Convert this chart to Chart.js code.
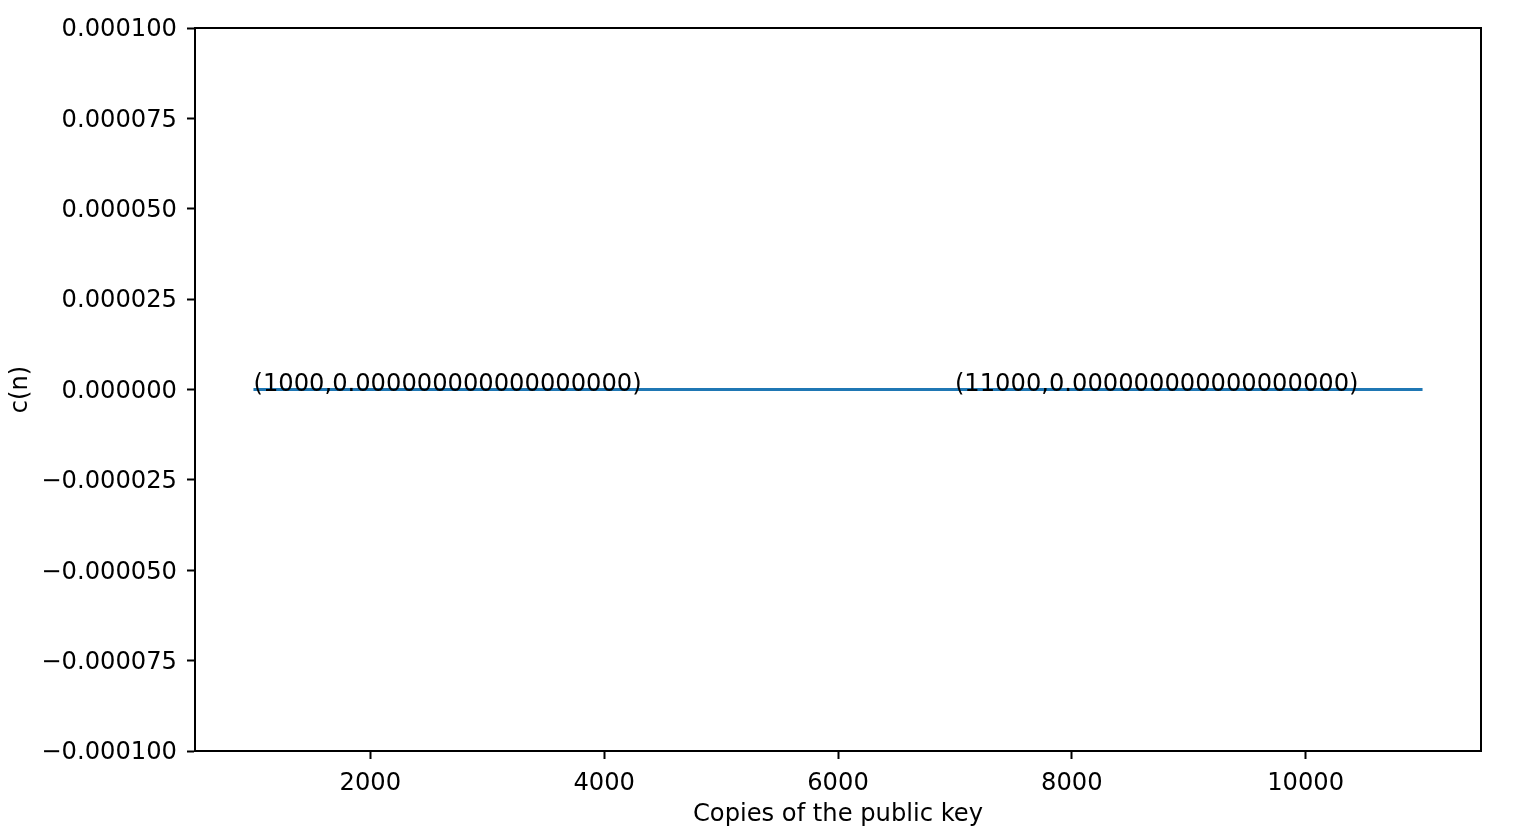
<!DOCTYPE html>
<html>
<head>
<meta charset="utf-8">
<script src="https://cdn.jsdelivr.net/npm/chart.js@4.4.0/dist/chart.umd.min.js"></script>
<style>
  html, body { margin: 0; padding: 0; background: #fff; }
  canvas { display: block; }
</style>
</head>
<body>
<canvas id="grafico-cn" width="1531" height="832"></canvas>
<script>
// --- DATOS ---
const copiasClave = [1000, 11000];
const valoresC = [0, 0];

const xTicks = [2000, 4000, 6000, 8000, 10000];
const xTickLabels = ["2000", "4000", "6000", "8000", "10000"];
const yTicks = [-0.0001, -0.000075, -0.00005, -0.000025, 0, 0.000025, 0.00005, 0.000075, 0.0001];
const yTickLabels = ["\u22120.000100", "\u22120.000075", "\u22120.000050", "\u22120.000025", "0.000000",
                     "0.000025", "0.000050", "0.000075", "0.000100"];

const anotaciones = ["(1000,0.000000000000000000)", "(11000,0.000000000000000000)"];
const anotacionX = [1000, 7000];
const anotacionY = [0, 0];

const FUENTE = "'DejaVu Sans'";
const TAM = 24.2;

Chart.defaults.font.family = FUENTE;
Chart.defaults.font.size = TAM;
Chart.defaults.color = "#000";

// marco completo + textos encima de la linea
const marcoYTextos = {
  id: "marcoYTextos",
  afterDatasetsDraw(chart) {
    const ctx = chart.ctx;
    const xs = chart.scales.x, ys = chart.scales.y;
    ctx.save();
    ctx.font = `${TAM}px ${FUENTE}`;
    ctx.fillStyle = "#000";
    ctx.textAlign = "left";
    ctx.textBaseline = "alphabetic";
    anotaciones.forEach((t, i) => {
      ctx.fillText(t, xs.getPixelForValue(anotacionX[i]), ys.getPixelForValue(anotacionY[i]) + 1);
    });
    ctx.restore();
  },
  afterDraw(chart) {
    const { left, right, top, bottom } = chart.chartArea;
    const ctx = chart.ctx;
    ctx.save();
    ctx.strokeStyle = "#000";
    ctx.lineWidth = 2;
    ctx.strokeRect(left, top, right - left, bottom - top);
    ctx.restore();
  }
};

const ctx = document.getElementById("grafico-cn").getContext("2d");
new Chart(ctx, {
  type: "line",
  data: {
    datasets: [{
      data: copiasClave.map((x, i) => ({ x, y: valoresC[i] })),
      borderColor: "#1f77b4",
      borderWidth: 3.2,
      pointRadius: 0,
      tension: 0,
      fill: false,
    }],
  },
  options: {
    responsive: false,
    animation: false,
    devicePixelRatio: 1,
    layout: { padding: { top: 28, right: 50, left: 0, bottom: 0 } },
    plugins: { legend: { display: false }, tooltip: { enabled: false } },
    scales: {
      x: {
        type: "linear",
        min: 500,
        max: 11500,
        afterBuildTicks: (s) => { s.ticks = xTicks.map((v) => ({ value: v })); },
        afterFit: (s) => { s.height = 81; },
        ticks: {
          padding: 10,
          maxRotation: 0,
          callback: (v) => xTickLabels[xTicks.indexOf(v)],
        },
        grid: { drawOnChartArea: false, drawTicks: true, tickLength: 8, tickWidth: 2, tickColor: "#000" },
        border: { display: true, color: "#000", width: 2 },
        title: { display: true, text: "Copies of the public key", padding: { top: 0, bottom: 3 } },
      },
      y: {
        type: "linear",
        min: -0.0001,
        max: 0.0001,
        afterBuildTicks: (s) => { s.ticks = yTicks.map((v) => ({ value: v })); },
        afterFit: (s) => { s.width = 195; },
        ticks: {
          padding: 10,
          labelOffset: 2,
          callback: (v) => yTickLabels[yTicks.findIndex((t) => Math.abs(t - v) < 1e-12)],
        },
        grid: { drawOnChartArea: false, drawTicks: true, tickLength: 8, tickWidth: 2, tickColor: "#000" },
        border: { display: true, color: "#000", width: 2 },
        title: { display: true, text: "c(n)", padding: { top: 6, bottom: 0 } },
      },
    },
  },
  plugins: [marcoYTextos],
});
</script>
</body>
</html>
